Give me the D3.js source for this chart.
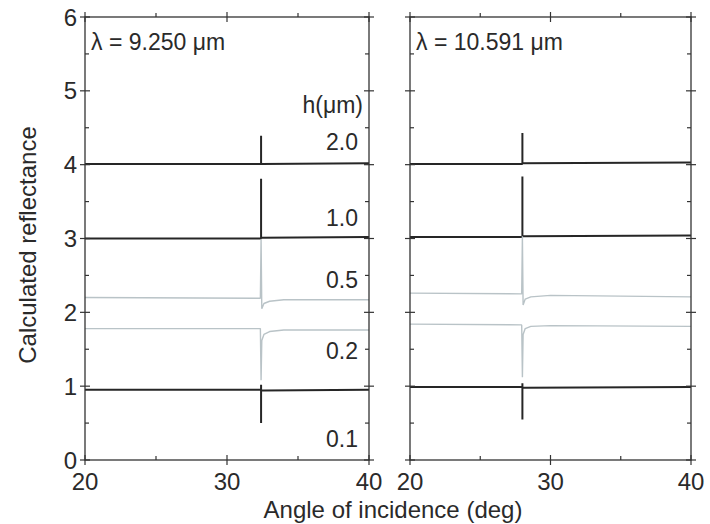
<!DOCTYPE html>
<html><head><meta charset="utf-8">
<script src="https://cdn.jsdelivr.net/npm/d3@7"></script>
<style>
html,body{margin:0;padding:0;background:#fff;}
svg text{font-family:"Liberation Sans",Arial,sans-serif;fill:#2a2a2a;}
</style></head>
<body><svg id="c" width="710" height="524"></svg>
<script>
// ---- data ----
const xTicks = [20, 30, 40];
const xMinor = [25, 35];
const yTicks = [0, 1, 2, 3, 4, 5, 6];
const yMinor = [0.5, 1.5, 2.5, 3.5, 4.5, 5.5];
const thicknessLabels = ["2.0", "1.0", "0.5", "0.2", "0.1"];
const panelTitles = ["\u03bb = 9.250 \u03bcm", "\u03bb = 10.591 \u03bcm"];

// lambda = 9.250 um  (angle, offset reflectance)
const h20_a = [[20,4.01],[32.4,4.01],[32.4,4.39],[32.4,4.01],[40,4.02]];
const h10_a = [[20,3.00],[32.4,3.00],[32.4,3.81],[32.4,3.01],[40,3.02]];
const h05_a = [[20,2.20],[32.35,2.19],[32.4,2.99],[32.45,2.05],[32.6,2.12],[33,2.15],[34,2.17],[40,2.17]];
const h02_a = [[20,1.78],[32.35,1.78],[32.4,1.08],[32.45,1.62],[32.6,1.70],[33,1.74],[34,1.76],[40,1.76]];
const h01_a = [[20,0.95],[32.4,0.95],[32.4,0.50],[32.4,1.02],[32.4,0.94],[32.6,0.94],[40,0.95]];

// lambda = 10.591 um
const h20_b = [[20,4.01],[28.0,4.01],[28.0,4.43],[28.0,4.02],[40,4.03]];
const h10_b = [[20,3.02],[28.0,3.02],[28.0,3.84],[28.0,3.03],[40,3.04]];
const h05_b = [[20,2.26],[27.95,2.25],[28.0,3.03],[28.05,2.10],[28.2,2.18],[28.6,2.21],[30,2.23],[40,2.21]];
const h02_b = [[20,1.84],[27.95,1.83],[28.0,1.12],[28.05,1.70],[28.2,1.78],[28.6,1.81],[30,1.82],[40,1.81]];
const h01_b = [[20,0.99],[28.0,0.99],[28.0,0.55],[28.0,1.04],[28.0,0.98],[28.2,0.98],[40,0.99]];

const panelSeries = [
  [h20_a, h10_a, h05_a, h02_a, h01_a],
  [h20_b, h10_b, h05_b, h02_b, h01_b]
];
const seriesDark = [true, true, false, false, true];

// ---- drawing ----
const svg = d3.select("#c");
const y = d3.scaleLinear().domain([0, 6]).range([460, 17]);
const xs = [
  d3.scaleLinear().domain([20, 40]).range([85, 369]),
  d3.scaleLinear().domain([20, 40]).range([410, 691])
];
const axisCol = "#333";

xs.forEach((x, p) => {
  const g = svg.append("g");
  const [x0, x1] = x.range();
  const [yb, yt] = y.range();
  const clipId = "clip" + p;
  svg.append("clipPath").attr("id", clipId).append("rect")
    .attr("x", x0).attr("y", yt).attr("width", x1 - x0).attr("height", yb - yt);

  const line = d3.line().x(d => x(d[0])).y(d => y(d[1]));
  panelSeries[p].forEach((s, i) => {
    g.append("path").datum(s).attr("d", line)
      .attr("clip-path", `url(#${clipId})`)
      .attr("fill", "none")
      .attr("stroke", seriesDark[i] ? "#262626" : "#b9c3c7")
      .attr("stroke-width", seriesDark[i] ? 2 : 1.4)
      .attr("stroke-linejoin", "bevel");
  });

  // frame
  g.append("rect").attr("x", x0).attr("y", yt).attr("width", x1 - x0).attr("height", yb - yt)
    .attr("fill", "none").attr("stroke", axisCol).attr("stroke-width", 1.3);

  // x ticks (bottom and top)
  xTicks.forEach(t => {
    [yb, yt].forEach(yy => g.append("line").attr("x1", x(t)).attr("x2", x(t))
      .attr("y1", yy - 5).attr("y2", yy + 5).attr("stroke", axisCol).attr("stroke-width", 1.2));
  });
  xMinor.forEach(t => {
    g.append("line").attr("x1", x(t)).attr("x2", x(t)).attr("y1", yb).attr("y2", yb - 4)
      .attr("stroke", axisCol).attr("stroke-width", 1.2);
    g.append("line").attr("x1", x(t)).attr("x2", x(t)).attr("y1", yt).attr("y2", yt - 4)
      .attr("stroke", axisCol).attr("stroke-width", 1.2);
  });
  // y ticks (left and right)
  yTicks.forEach(t => {
    [x0, x1].forEach(xx => g.append("line").attr("x1", xx - 5).attr("x2", xx + 5)
      .attr("y1", y(t)).attr("y2", y(t)).attr("stroke", axisCol).attr("stroke-width", 1.2));
  });
  yMinor.forEach(t => {
    g.append("line").attr("x1", x0).attr("x2", x0 + 4).attr("y1", y(t)).attr("y2", y(t))
      .attr("stroke", axisCol).attr("stroke-width", 1.2);
    g.append("line").attr("x1", x1).attr("x2", x1 - 4).attr("y1", y(t)).attr("y2", y(t))
      .attr("stroke", axisCol).attr("stroke-width", 1.2);
  });

  // x tick labels
  xTicks.forEach(t => {
    g.append("text").attr("x", x(t)).attr("y", 490).attr("text-anchor", "middle")
      .attr("font-size", 24).text(t);
  });

  // panel title
  g.append("text").attr("x", x0 + 6).attr("y", 50).attr("font-size", 23).text(panelTitles[p]);
});

// y tick labels (left panel only)
yTicks.forEach(t => {
  svg.append("text").attr("x", 77).attr("y", y(t) + 8.5).attr("text-anchor", "end")
    .attr("font-size", 24).text(t);
});

// thickness labels
const xl = xs[0];
const labelY = [4.20, 3.17, 2.33, 1.37, 0.17];
svg.append("text").attr("x", xl.range()[1] - 6).attr("y", y(4.70)).attr("text-anchor", "end")
  .attr("font-size", 23).text("h(\u03bcm)");
thicknessLabels.forEach((l, i) => {
  svg.append("text").attr("x", xl.range()[1] - 11).attr("y", y(labelY[i])).attr("text-anchor", "end")
    .attr("font-size", 23).text(l);
});

// axis titles
svg.append("text").attr("x", 393).attr("y", 518).attr("text-anchor", "middle")
  .attr("font-size", 24).text("Angle of incidence (deg)");
svg.append("text").attr("transform", "translate(36,245) rotate(-90)").attr("text-anchor", "middle")
  .attr("font-size", 24).text("Calculated reflectance");
</script></body></html>
